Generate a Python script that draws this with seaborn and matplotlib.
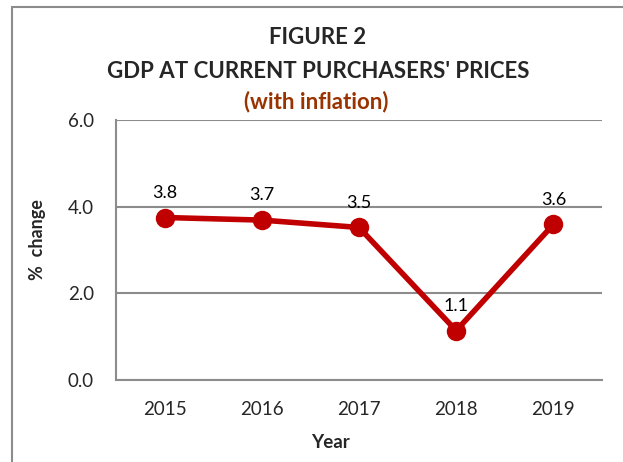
import matplotlib
matplotlib.use('Agg')
import matplotlib.pyplot as plt
import matplotlib.patches as patches
import seaborn as sns
import pandas as pd

# data
years = ['2015', '2016', '2017', '2018', '2019']
gdp_change = [3.75, 3.69, 3.52, 1.14, 3.59]
value_labels = ['3.8', '3.7', '3.5', '1.1', '3.6']
y_ticks = [0.0, 2.0, 4.0, 6.0]

df = pd.DataFrame({'Year': years, 'change': gdp_change})

sns.set_style('white')
plt.rcParams['font.family'] = ['Lato', 'DejaVu Sans']

fig = plt.figure(figsize=(6.23, 4.62), dpi=100)
ax = fig.add_axes([116 / 623, 82 / 462, 486 / 623, 260 / 462])

line_red = '#C00000'
grid_grey = '#8C8C8C'

sns.lineplot(data=df, x='Year', y='change', ax=ax, color=line_red,
             linewidth=4, marker='o', markersize=14, markeredgewidth=0,
             sort=False, zorder=3)

for i, (v, lab) in enumerate(zip(gdp_change, value_labels)):
    ax.annotate(lab, (i, v), xytext=(0, 12), textcoords='offset points',
                ha='center', va='bottom', fontsize=13, color='black')

ax.set_xlim(-0.5, len(years) - 0.5)
ax.set_ylim(0, 6)
ax.set_yticks(y_ticks)
ax.set_yticklabels([f'{t:.1f}' for t in y_ticks])
ax.yaxis.grid(True, color=grid_grey, linewidth=1.5)
ax.set_axisbelow(True)
ax.tick_params(axis='both', length=0, labelsize=13.5)
ax.tick_params(axis='x', pad=15)
ax.tick_params(axis='y', pad=16)

for side in ['top', 'right']:
    ax.spines[side].set_visible(False)
for side in ['left', 'bottom']:
    ax.spines[side].set_color(grid_grey)
    ax.spines[side].set_linewidth(1.5)

ax.set_xlabel('')
ax.set_ylabel('')
fig.text(38 / 623, 1 - 240 / 462, '%  change', rotation=90, ha='center',
         va='center', fontsize=13, fontweight='bold')
fig.text(330 / 623, 1 - 443 / 462, 'Year', ha='center', va='center',
         fontsize=13.5, fontweight='bold')

# titles
fig.text(318 / 623, 1 - 38 / 462, 'FIGURE 2', ha='center', va='center',
         fontsize=16, fontweight='bold')
fig.text(318 / 623, 1 - 71 / 462, "GDP AT CURRENT PURCHASERS' PRICES",
         ha='center', va='center', fontsize=16, fontweight='bold')
fig.text(316 / 623, 1 - 102 / 462, '(with inflation)', ha='center',
         va='center', fontsize=16, fontweight='bold', color='#993300')

# chart border (cut off at right and bottom)
fig.patches.append(patches.Rectangle((12 / 623, -0.1), 1.0, 1 - 7 / 462 + 0.1,
                                     transform=fig.transFigure, fill=False,
                                     edgecolor=grid_grey, linewidth=1.5))

fig.savefig('out.png', dpi=100)
